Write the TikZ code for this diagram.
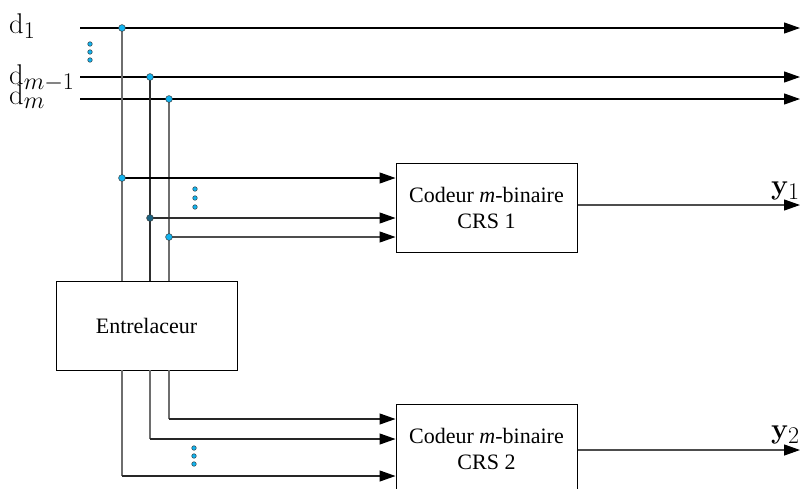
\RequirePackage{fix-cm}
\documentclass[tikz,border=0pt]{standalone}
\usepackage[no-math]{fontspec}
\setmainfont{Liberation Serif}
\usetikzlibrary{arrows.meta}
\DeclareMathSizes{28.5}{28.5}{24}{19}
\definecolor{dotblue}{HTML}{12B4F0}
\definecolor{dotdark}{HTML}{1C6482}
\definecolor{wiregray}{HTML}{6E6E6E}
\definecolor{wiredark}{HTML}{2E2E2E}
\tikzset{
  blockbox/.style={draw, line width=1pt, minimum width=181pt, minimum height=89pt,
    align=center, font=\fontsize{22}{26}\selectfont, inner sep=0pt},
  junc/.style={circle, draw=black!80, fill=dotblue, line width=0.5pt,
    minimum size=6.8pt, inner sep=0pt},
  vdot/.style={circle, draw=black!80, fill=dotblue, line width=0.45pt,
    minimum size=4.6pt, inner sep=0pt},
  sig/.style={line width=1.2pt},
  arr/.style={line width=1.2pt, -{Triangle[length=16pt,width=11pt,color=black]}},
  lbl/.style={font=\fontsize{28.5}{32}\selectfont, inner sep=0pt},
}
\begin{document}
\begin{tikzpicture}[x=1pt,y=-1pt]
\useasboundingbox (0,0) rectangle (802,488);

% blocks
\node[blockbox] (crs1) at (486.5,207.5) {Codeur \textit{m}-binaire\\CRS 1};
\node[blockbox] (crs2) at (486.5,448.5) {Codeur \textit{m}-binaire\\CRS 2};
\node[blockbox] (ent) at (146.5,325.5) {Entrelaceur};

% input lines and their labels
\coordinate (a1) at (80,28);   \coordinate (b1) at (800,28);
\coordinate (a2) at (80,77);   \coordinate (b2) at (800,77);
\coordinate (a3) at (80,99);   \coordinate (b3) at (800,99);
\draw[arr] (a1) -- (b1);
\draw[arr] (a2) -- (b2);
\draw[arr] (a3) -- (b3);
\node[lbl, anchor=base west] (ld1) at (9,33) {$\mathrm{d}_1$};
\node[lbl, anchor=base west] (ld2) at (9,84) {$\mathrm{d}_{m-1}$};
\node[lbl, anchor=base west] (ld3) at (9,104) {$\mathrm{d}_m$};

% vertical feeds down to the interleaver
\coordinate (e1) at (122,281);
\coordinate (e2) at (150,281);
\coordinate (e3) at (169,281);
\coordinate (t1) at (122,28);
\coordinate (t2) at (150,77);
\coordinate (t3) at (169,99);
\draw[sig, draw=wiregray] (t1) -- (e1);
\draw[line width=2pt, draw=wiredark] (t2) -- (e2);
\draw[sig, draw=wiregray] (t3) -- (e3);

% taps into the first encoder
\coordinate (s1) at (122,178);
\coordinate (s2) at (150,218);
\coordinate (s3) at (169,237);
\draw[arr] (s1) -- (s1 -| crs1.west);
\draw[arr, draw=wiredark] (s2) -- (s2 -| crs1.west);
\draw[arr, draw=wiregray!70!black] (s3) -- (s3 -| crs1.west);

% junction dots
\node[junc] (j1) at (t1) {};
\node[junc] (j2) at (t2) {};
\node[junc] (j3) at (t3) {};
\node[junc] (k1) at (s1) {};
\node[junc, fill=dotdark] (k2) at (s2) {};
\node[junc] (k3) at (s3) {};

% interleaver outputs into the second encoder
\coordinate (f1) at (122,370);
\coordinate (f2) at (150,370);
\coordinate (f3) at (169,370);
\coordinate (g1) at (122,476);
\coordinate (g2) at (150,439);
\coordinate (g3) at (169,419);
\draw[sig, draw=wiregray] (f1) -- (g1);
\draw[arr, draw=black!85] (g1) -- (g1 -| crs2.west);
\draw[sig, draw=wiregray] (f2) -- (g2);
\draw[arr, draw=black!85] (g2) -- (g2 -| crs2.west);
\draw[sig, draw=wiregray] (f3) -- (g3);
\draw[arr, draw=black!85] (g3) -- (g3 -| crs2.west);

% encoder outputs
\coordinate (y1e) at (800,205);
\coordinate (y2e) at (800,450);
\draw[arr, draw=wiregray!70!black] (crs1.east |- y1e) -- (y1e);
\draw[arr, draw=wiregray!70!black] (crs2.east |- y2e) -- (y2e);
\node[lbl, anchor=base west] (ly1) at (771,194) {$\mathbf{y}_1$};
\node[lbl, anchor=base west] (ly2) at (771,438) {$\mathbf{y}_2$};

% ellipsis dots
\foreach \yy [count=\i] in {44,52,60} \node[vdot] (u\i) at (90,\yy) {};
\foreach \yy [count=\i] in {189,198,207} \node[vdot] (v\i) at (195,\yy) {};
\foreach \yy [count=\i] in {448,456,464} \node[vdot] (w\i) at (194,\yy) {};
\end{tikzpicture}
\end{document}
